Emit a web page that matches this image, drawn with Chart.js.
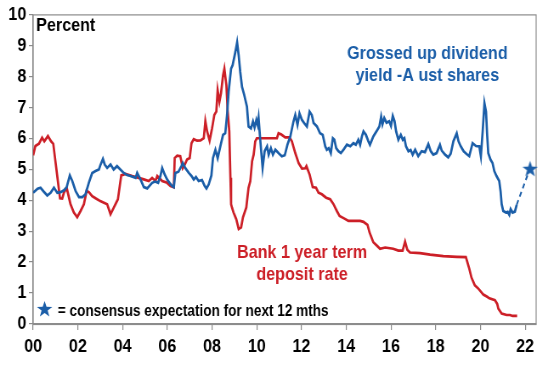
<!DOCTYPE html>
<html>
<head>
<meta charset="utf-8">
<script src="https://cdn.jsdelivr.net/npm/chart.js@4.4.0/dist/chart.umd.min.js"></script>
<style>
  html, body { margin: 0; padding: 0; background: #fff; }
  #wrap { width: 548px; height: 366px; overflow: hidden; }
  /* the source chart is horizontally squeezed: draw wider, show at 548px */
  #chartCanvas { width: 548px; height: 366px; }
</style>
</head>
<body>
<div id="wrap"><canvas id="chartCanvas" width="645" height="366" style="width:548px;height:366px"></canvas></div>
<script>
// bank 1 year term deposit rate (red)
const depositYears = [2000.0, 2000.1, 2000.26, 2000.4, 2000.5, 2000.66, 2000.8, 2000.9, 2001.2, 2001.3, 2001.38, 2001.5, 2001.67, 2001.82, 2001.97, 2002.12, 2002.27, 2002.39, 2002.5, 2002.64, 2002.79, 2003.0, 2003.31, 2003.46, 2003.6, 2003.79, 2003.94, 2004.13, 2004.43, 2004.72, 2004.95, 2005.17, 2005.32, 2005.47, 2005.55, 2005.77, 2005.99, 2006.14, 2006.29, 2006.33, 2006.44, 2006.58, 2006.69, 2006.78, 2006.88, 2007.0, 2007.08, 2007.18, 2007.33, 2007.48, 2007.63, 2007.7, 2007.78, 2007.89, 2008.0, 2008.1, 2008.19, 2008.25, 2008.33, 2008.4, 2008.49, 2008.55, 2008.64, 2008.7, 2008.77, 2008.82, 2008.85, 2008.89, 2008.96, 2009.08, 2009.19, 2009.3, 2009.38, 2009.53, 2009.63, 2009.71, 2009.79, 2009.86, 2009.93, 2010.0, 2010.9, 2010.97, 2011.1, 2011.27, 2011.46, 2011.57, 2011.72, 2011.87, 2012.02, 2012.17, 2012.22, 2012.36, 2012.5, 2012.65, 2012.76, 2012.91, 2013.1, 2013.28, 2013.43, 2013.58, 2013.7, 2013.88, 2014.1, 2014.62, 2014.77, 2014.95, 2015.04, 2015.21, 2015.37, 2015.51, 2015.74, 2016.1, 2016.33, 2016.52, 2016.63, 2016.73, 2016.85, 2017.3, 2017.75, 2018.34, 2018.94, 2019.35, 2019.5, 2019.6, 2019.75, 2019.9, 2020.13, 2020.3, 2020.4, 2020.65, 2020.75, 2020.8, 2020.95, 2021.17, 2021.32, 2021.44, 2021.64];
const depositRates = [5.45, 5.75, 5.82, 6.02, 5.9, 6.07, 5.9, 5.82, 4.06, 4.05, 4.25, 4.4, 3.87, 3.6, 3.45, 3.65, 3.87, 4.3, 4.25, 4.13, 4.06, 3.97, 3.87, 3.55, 3.75, 4.03, 4.8, 4.85, 4.78, 4.72, 4.67, 4.62, 4.72, 4.62, 4.78, 4.62, 4.56, 4.46, 4.42, 5.36, 5.44, 5.42, 5.04, 5.15, 5.31, 5.36, 5.84, 5.97, 5.92, 5.93, 6.0, 6.55, 6.22, 5.92, 6.32, 6.75, 6.86, 7.55, 7.18, 7.45, 8.03, 8.25, 7.71, 6.86, 6.22, 4.72, 3.87, 3.76, 3.6, 3.39, 3.07, 3.12, 3.44, 3.76, 4.4, 4.61, 5.26, 5.47, 5.9, 6.0, 6.0, 6.16, 6.12, 6.03, 6.03, 5.9, 5.52, 5.2, 5.02, 5.03, 5.1, 4.83, 4.42, 4.4, 4.24, 4.19, 4.08, 4.03, 3.87, 3.65, 3.49, 3.42, 3.33, 3.33, 3.3, 3.2, 2.96, 2.64, 2.53, 2.43, 2.47, 2.43, 2.37, 2.37, 2.66, 2.4, 2.31, 2.29, 2.24, 2.19, 2.17, 2.16, 1.79, 1.5, 1.25, 1.15, 0.95, 0.88, 0.83, 0.77, 0.65, 0.5, 0.34, 0.29, 0.29, 0.26, 0.26];

// grossed up dividend yield (blue)
const yieldYears = [2000.0, 2000.2, 2000.33, 2000.48, 2000.63, 2000.78, 2000.93, 2001.08, 2001.23, 2001.38, 2001.5, 2001.55, 2001.64, 2001.75, 2001.9, 2002.05, 2002.2, 2002.34, 2002.49, 2002.64, 2002.79, 2002.94, 2003.0, 2003.12, 2003.2, 2003.31, 2003.46, 2003.6, 2003.75, 2003.9, 2004.05, 2004.2, 2004.35, 2004.58, 2004.65, 2004.8, 2004.95, 2005.1, 2005.32, 2005.45, 2005.59, 2005.69, 2005.77, 2005.88, 2005.99, 2006.1, 2006.21, 2006.29, 2006.36, 2006.5, 2006.63, 2006.69, 2006.8, 2006.96, 2007.08, 2007.18, 2007.28, 2007.4, 2007.55, 2007.67, 2007.75, 2007.85, 2007.97, 2008.04, 2008.15, 2008.25, 2008.37, 2008.49, 2008.59, 2008.67, 2008.74, 2008.85, 2008.92, 2009.04, 2009.12, 2009.19, 2009.26, 2009.34, 2009.44, 2009.56, 2009.63, 2009.74, 2009.83, 2009.9, 2009.98, 2010.04, 2010.08, 2010.16, 2010.26, 2010.35, 2010.46, 2010.53, 2010.63, 2010.72, 2010.83, 2011.0, 2011.12, 2011.25, 2011.37, 2011.5, 2011.64, 2011.72, 2011.82, 2011.91, 2012.02, 2012.12, 2012.24, 2012.36, 2012.46, 2012.54, 2012.69, 2012.83, 2012.95, 2013.06, 2013.13, 2013.22, 2013.31, 2013.4, 2013.47, 2013.55, 2013.65, 2013.76, 2013.88, 2014.03, 2014.18, 2014.32, 2014.43, 2014.54, 2014.62, 2014.7, 2014.77, 2014.88, 2014.99, 2015.06, 2015.21, 2015.35, 2015.48, 2015.56, 2015.62, 2015.7, 2015.8, 2015.92, 2016.0, 2016.08, 2016.16, 2016.23, 2016.33, 2016.44, 2016.53, 2016.6, 2016.67, 2016.78, 2016.88, 2016.97, 2017.08, 2017.22, 2017.37, 2017.52, 2017.67, 2017.78, 2017.89, 2018.04, 2018.19, 2018.27, 2018.42, 2018.56, 2018.67, 2018.79, 2018.94, 2019.02, 2019.12, 2019.25, 2019.38, 2019.5, 2019.65, 2019.8, 2019.95, 2020.02, 2020.1, 2020.18, 2020.25, 2020.3, 2020.35, 2020.45, 2020.54, 2020.62, 2020.72, 2020.84, 2020.9, 2020.95, 2021.02, 2021.14, 2021.22, 2021.29, 2021.35, 2021.44, 2021.54, 2021.62];
const yieldValues = [4.24, 4.37, 4.4, 4.27, 4.15, 4.24, 4.4, 4.24, 4.26, 4.32, 4.42, 4.56, 4.8, 4.62, 4.29, 4.1, 4.1, 4.19, 4.56, 4.88, 4.94, 4.99, 5.12, 5.33, 5.15, 5.04, 5.15, 4.99, 5.1, 4.99, 4.88, 4.81, 4.78, 4.72, 4.88, 4.67, 4.42, 4.38, 4.56, 4.6, 4.56, 4.78, 5.04, 4.83, 4.67, 4.56, 4.46, 4.42, 4.88, 4.92, 5.1, 5.2, 5.04, 4.88, 4.78, 4.67, 4.75, 4.62, 4.65, 4.46, 4.38, 4.51, 4.8, 5.36, 5.63, 5.36, 5.74, 6.11, 6.16, 6.75, 7.5, 8.25, 8.36, 8.78, 9.1, 8.68, 8.14, 7.66, 7.39, 7.02, 6.38, 6.32, 6.54, 6.35, 6.59, 6.43, 6.65, 5.9, 5.04, 5.58, 5.74, 5.47, 5.68, 5.47, 5.63, 5.5, 5.42, 5.45, 5.79, 6.06, 6.54, 6.75, 6.43, 6.8, 6.59, 6.49, 6.38, 6.86, 6.75, 6.49, 6.38, 6.16, 6.11, 5.74, 5.63, 5.68, 5.52, 6.0, 5.95, 5.68, 5.58, 5.52, 5.63, 5.79, 5.74, 5.84, 5.79, 5.95, 5.79, 6.06, 6.22, 6.11, 5.9, 5.79, 6.06, 6.22, 6.38, 6.7, 6.45, 6.65, 6.5, 6.55, 6.4, 6.72, 6.55, 6.22, 5.95, 6.11, 5.95, 6.0, 5.74, 5.58, 5.62, 5.47, 5.63, 5.42, 5.58, 5.55, 5.81, 5.58, 5.47, 5.52, 5.79, 5.6, 5.47, 5.38, 5.5, 5.9, 6.16, 5.9, 5.74, 5.58, 5.49, 5.42, 5.84, 5.75, 5.74, 5.42, 6.22, 7.13, 6.86, 6.11, 5.52, 5.31, 5.2, 4.94, 4.78, 4.62, 4.29, 3.87, 3.65, 3.6, 3.62, 3.53, 3.71, 3.6, 3.63, 3.85];

// consensus expectation for next 12 months (dashed + star)
const forecastYears = [2021.62, 2022.22];
const forecastValues = [3.85, 5.03];

const xTickYears = [2000, 2002, 2004, 2006, 2008, 2010, 2012, 2014, 2016, 2018, 2020, 2022];
const xTickLabels = ["00", "02", "04", "06", "08", "10", "12", "14", "16", "18", "20", "22"];

const AZUL = "#1B5EA8";
const ROJO = "#CC1F27";
const FUENTE = '"Liberation Sans", Arial, sans-serif';

// estrella rellena de 5 puntas (un poco mas ancha: el lienzo se comprime en x)
function hacerEstrella(w, h, color) {
  const c = document.createElement("canvas");
  c.width = w; c.height = h;
  const g = c.getContext("2d");
  const cx = w / 2, cy = h / 2 + h * 0.06;
  g.beginPath();
  for (let i = 0; i < 10; i++) {
    const f = i % 2 === 0 ? 1 : 0.4;
    const a = -Math.PI / 2 + i * Math.PI / 5;
    const px = cx + f * (w / 2) * Math.cos(a), py = cy + f * (h / 2) * Math.sin(a);
    if (i === 0) g.moveTo(px, py); else g.lineTo(px, py);
  }
  g.closePath();
  g.fillStyle = color;
  g.fill();
  return c;
}

const estrella = hacerEstrella(19, 17, AZUL);

const pares = (xs, ys) => xs.map((x, i) => ({ x, y: ys[i] }));

// textos y marco
const anotaciones = {
  id: "anotaciones",
  beforeDatasetsDraw(chart) {
    const { ctx, chartArea: a } = chart;
    ctx.save();
    ctx.strokeStyle = "#8C8C8C";
    ctx.lineWidth = 1.2;
    ctx.strokeRect(a.left, a.top + 0.5, a.right - a.left, a.bottom - a.top);
    ctx.restore();
  },
  afterDraw(chart) {
    const ctx = chart.ctx;
    ctx.save();
    ctx.textBaseline = "alphabetic";
    ctx.font = "bold 19px " + FUENTE;
    ctx.fillStyle = "#000";
    ctx.textAlign = "left";
    ctx.fillText("Percent", 42.5, 31);

    ctx.fillStyle = AZUL;
    ctx.textAlign = "center";
    ctx.fillText("Grossed up dividend", 503, 59);
    ctx.fillText("yield -A ust shares", 503, 81);

    ctx.fillStyle = ROJO;
    ctx.fillText("Bank 1 year term", 355.5, 258);
    ctx.fillText("deposit rate", 355.5, 280);

    ctx.drawImage(estrella, 43, 300);
    ctx.font = "bold 16px " + FUENTE;
    ctx.fillStyle = "#000";
    ctx.textAlign = "left";
    ctx.fillText("= consensus expectation for next 12 mths", 68, 316);
    ctx.restore();
  }
};

const ctx = document.getElementById("chartCanvas").getContext("2d");
new Chart(ctx, {
  type: "line",
  data: {
    datasets: [
      {
        label: "Grossed up dividend yield",
        data: pares(yieldYears, yieldValues),
        borderColor: AZUL,
        borderWidth: 2.7,
        pointRadius: 0,
        tension: 0
      },
      {
        label: "Bank 1 year term deposit rate",
        data: pares(depositYears, depositRates),
        borderColor: ROJO,
        borderWidth: 2.7,
        pointRadius: 0,
        tension: 0
      },
      {
        label: "Consensus expectation",
        data: pares(forecastYears, forecastValues),
        borderColor: AZUL,
        borderWidth: 2,
        borderDash: [5, 4],
        pointStyle: [false, estrella],
        pointRadius: [0, 9],
        tension: 0,
        clip: false
      }
    ]
  },
  options: {
    responsive: false,
    animation: false,
    layout: { padding: { top: 12, right: 14, left: 0, bottom: 0 } },
    plugins: { legend: { display: false }, tooltip: { enabled: false } },
    scales: {
      x: {
        type: "linear",
        min: 2000,
        max: 2022.49,
        afterBuildTicks: s => { s.ticks = xTickYears.map(v => ({ value: v })); },
        afterFit: s => { s.height = 42; },
        grid: { drawOnChartArea: false, color: "#8C8C8C", tickLength: 6, lineWidth: 1.2 },
        border: { display: true, color: "#8C8C8C", width: 1.2 },
        ticks: {
          padding: 5,
          color: "#000",
          maxRotation: 0,
          autoSkip: false,
          font: { family: FUENTE, size: 19, weight: "bold" },
          callback: (v, i) => xTickLabels[i]
        }
      },
      y: {
        min: 0,
        max: 10,
        afterFit: s => { s.width = 39; },
        grid: { drawOnChartArea: false, color: "#8C8C8C", tickLength: 5, lineWidth: 1.2 },
        border: { display: true, color: "#8C8C8C", width: 1.2 },
        ticks: {
          stepSize: 1,
          padding: 3,
          color: "#000",
          font: { family: FUENTE, size: 19, weight: "bold" }
        }
      }
    }
  },
  plugins: [anotaciones]
});
</script>
</body>
</html>
